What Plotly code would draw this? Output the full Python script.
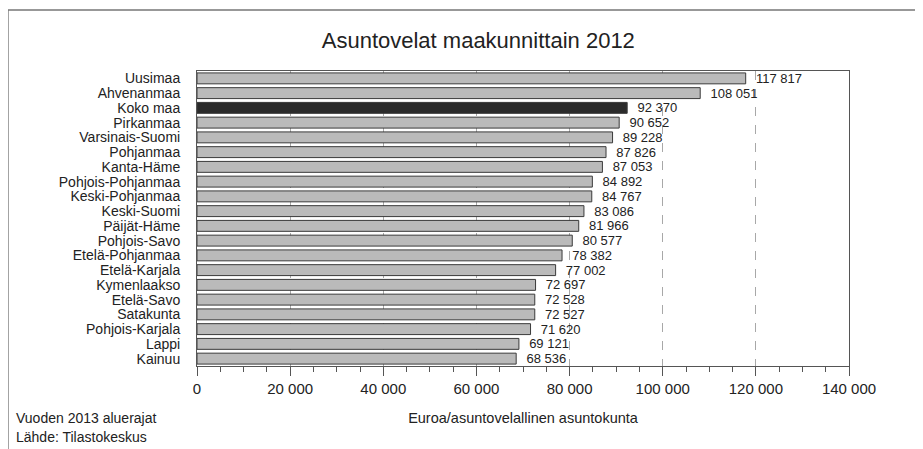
import plotly.graph_objs as go

# Data
REGIONS = [
    "Uusimaa", "Ahvenanmaa", "Koko maa", "Pirkanmaa", "Varsinais-Suomi",
    "Pohjanmaa", "Kanta-Häme", "Pohjois-Pohjanmaa", "Keski-Pohjanmaa",
    "Keski-Suomi", "Päijät-Häme", "Pohjois-Savo", "Etelä-Pohjanmaa",
    "Etelä-Karjala", "Kymenlaakso", "Etelä-Savo", "Satakunta",
    "Pohjois-Karjala", "Lappi", "Kainuu",
]
DEBT = [
    117817, 108051, 92370, 90652, 89228, 87826, 87053, 84892, 84767,
    83086, 81966, 80577, 78382, 77002, 72697, 72528, 72527, 71620,
    69121, 68536,
]
HIGHLIGHT = "Koko maa"
X_TICKS = [0, 20000, 40000, 60000, 80000, 100000, 120000, 140000]

FONT = "Liberation Sans, Arial, sans-serif"
TEXT = "#222222"


def fmt(v: int) -> str:
    return f"{v:,}".replace(",", " ")


colors = ["#2b2b2b" if r == HIGHLIGHT else "#bababa" for r in REGIONS]

fig = go.Figure(
    go.Bar(
        x=DEBT,
        y=REGIONS,
        orientation="h",
        width=0.74,
        marker=dict(color=colors, line=dict(color="#3a3a3a", width=1)),
        text=["  " + fmt(v) for v in DEBT],
        textposition="outside",
        constraintext="none",
        textfont=dict(family=FONT, size=13, color=TEXT),
        cliponaxis=False,
    )
)

# page body adds an 8px offset, so the figure is 8px smaller
fig.update_layout(
    width=915,
    height=441,
    margin=dict(l=189, r=74, t=63, b=83, autoexpand=False),
    paper_bgcolor="white",
    plot_bgcolor="white",
    font=dict(family=FONT, size=14, color=TEXT),
    separators=", ",
    showlegend=False,
    title=dict(
        text="Asuntovelat maakunnittain 2012",
        font=dict(family=FONT, size=22, color=TEXT),
        xref="container",
        x=0.514,
        xanchor="center",
        yref="container",
        y=0.927,
        yanchor="middle",
    ),
)

fig.update_xaxes(
    range=[0, 140000],
    tickvals=X_TICKS,
    ticktext=[fmt(v) for v in X_TICKS],
    ticks="outside",
    ticklen=9,
    tickcolor="#555555",
    showgrid=True,
    gridcolor="#a8a8a8",
    griddash="dash",
    gridwidth=1,
    showline=True,
    linecolor="#555555",
    linewidth=1,
    mirror=True,
    zeroline=False,
    minor=dict(dtick=5000, ticks="outside", ticklen=5, tickcolor="#555555", showgrid=False),
    tickfont=dict(size=15, color=TEXT),
    title=dict(text="Euroa/asuntovelallinen asuntokunta", standoff=16,
               font=dict(size=14.5, color=TEXT)),
)

fig.update_yaxes(
    autorange="reversed",
    tickmode="array",
    tickvals=REGIONS,
    showline=True,
    linecolor="#555555",
    linewidth=1,
    mirror=True,
    ticks="",
    ticklabelstandoff=13,
    tickfont=dict(size=14, color=TEXT),
)

# Outer frame around the whole graphic
fig.add_shape(
    type="rect", xref="paper", yref="paper",
    x0=-0.29, x1=1.5, y0=-0.6, y1=1.207,
    line=dict(color="#777777", width=1.5),
)

# Footnotes
fig.add_annotation(
    text="Vuoden 2013 aluerajat", xref="paper", yref="paper",
    x=-0.2807, y=-0.176, xanchor="left", yanchor="middle", showarrow=False,
    font=dict(size=14, color=TEXT),
)
fig.add_annotation(
    text="Lähde: Tilastokeskus", xref="paper", yref="paper",
    x=-0.2807, y=-0.24, xanchor="left", yanchor="middle", showarrow=False,
    font=dict(size=14, color=TEXT),
)

fig.write_html("out.html")
